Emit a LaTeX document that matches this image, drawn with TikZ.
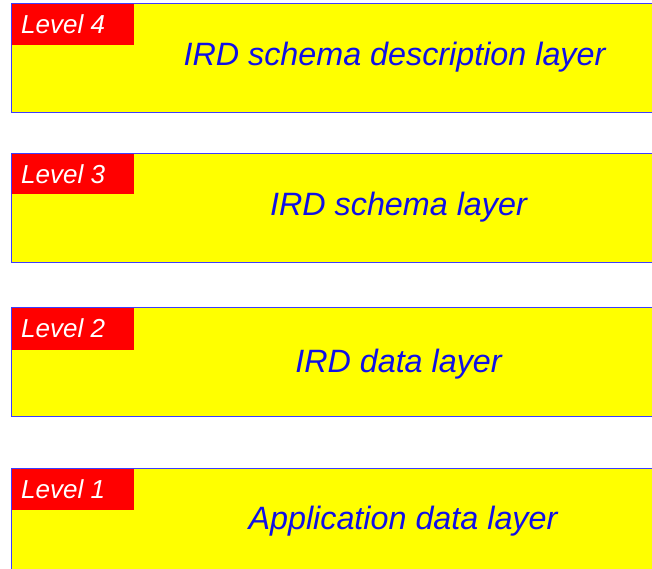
\documentclass[tikz,border=0pt]{standalone}
\usepackage{fontspec}
\setmainfont{Liberation Sans}
\definecolor{lyellow}{RGB}{255,255,0}
\definecolor{lred}{RGB}{255,0,0}
\definecolor{lborder}{RGB}{60,60,255}
\definecolor{ltext}{RGB}{16,16,230}
\tikzset{
  layerbox/.style={draw=lborder, line width=1pt, fill=lyellow},
  tagbox/.style={fill=lred},
  tagtext/.style={anchor=base west, inner sep=0pt, text=white, font=\fontsize{26}{30}\selectfont\itshape},
  layertext/.style={anchor=base, inner sep=0pt, text=ltext, font=\fontsize{32.3}{36}\selectfont\itshape}
}
\begin{document}
\begin{tikzpicture}[x=1pt,y=-1pt]
\useasboundingbox (0,0) rectangle (652,568);
\clip (0,0) rectangle (652,568);
% Level 4
\draw[layerbox] (11,3) rectangle (670,112);
\fill[tagbox] (11.5,3.5) rectangle (134,45);
\node[tagtext] (t4) at (21,33) {Level 4};
\node[layertext] (l4) at (394.5,65) {IRD schema description layer};
% Level 3
\draw[layerbox] (11,153) rectangle (670,262);
\fill[tagbox] (11.5,153.5) rectangle (134,194);
\node[tagtext] (t3) at (21,183) {Level 3};
\node[layertext] (l3) at (398.5,215) {IRD schema layer};
% Level 2
\draw[layerbox] (11,307.5) rectangle (670,416.5);
\fill[tagbox] (11.5,308) rectangle (134,350);
\node[tagtext] (t2) at (21,337) {Level 2};
\node[layertext] (l2) at (398.5,372) {IRD data layer};
% Level 1
\draw[layerbox] (11,468) rectangle (670,590);
\fill[tagbox] (11.5,468.5) rectangle (134,510);
\node[tagtext] (t1) at (21,498) {Level 1};
\node[layertext] (l1) at (403,529) {Application data layer};
\end{tikzpicture}
\end{document}
